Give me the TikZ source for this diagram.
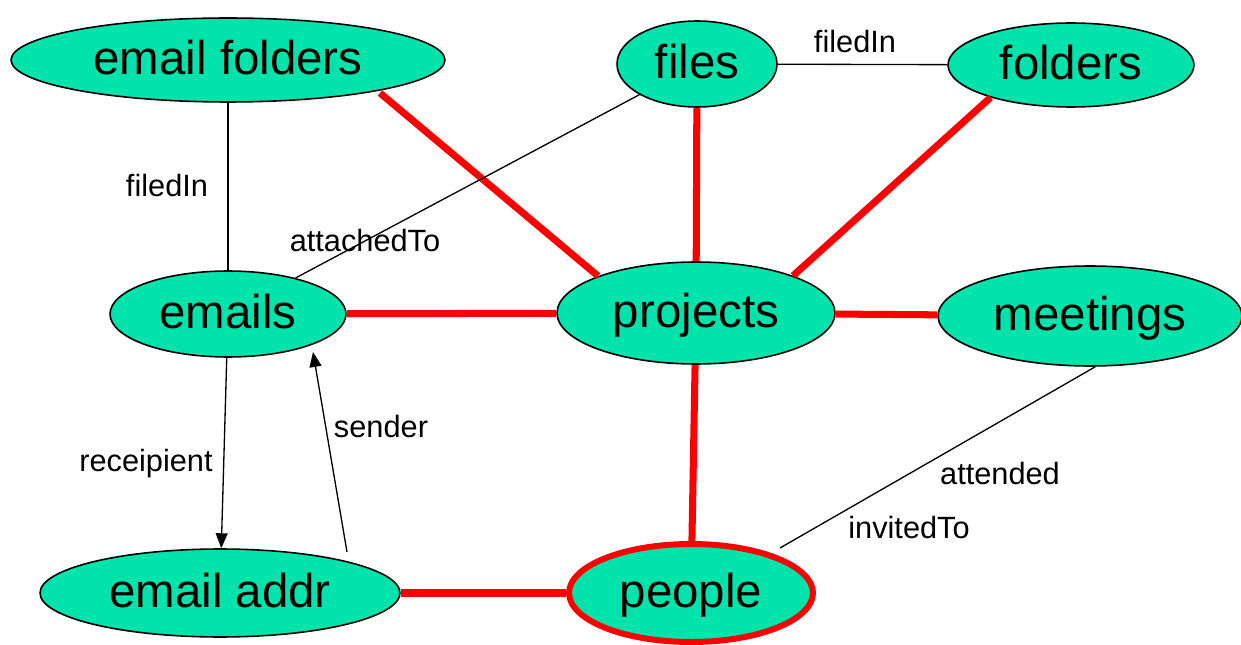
\documentclass[tikz,border=0pt]{standalone}
\usepackage{fontspec}
\setmainfont{Liberation Sans}
\usetikzlibrary{shapes.geometric,arrows.meta}
\definecolor{mint}{HTML}{00E3AA}
\definecolor{hot}{HTML}{FF0000}
\tikzset{
  entity/.style={ellipse, draw=black, line width=0.9pt, fill=mint, inner sep=0pt,
    text height=17pt, text depth=0pt,
    font=\fontsize{27}{30}\selectfont},
  keyentity/.style={entity, draw=hot, line width=3.4pt},
  strong/.style={draw=hot, line width=4pt},
  weak/.style={draw=black, line width=0.75pt},
  pointer/.style={weak, -{Triangle[length=8.5pt,width=6.8pt]}},
  rel/.style={font=\fontsize{17.5}{20}\selectfont, inner sep=0pt}
}
\begin{document}
\begin{tikzpicture}[x=0.02cm, y=-0.02cm]
\useasboundingbox (0,0) rectangle (1241,645);

% entities
\node[entity, minimum width=8.68cm, minimum height=1.68cm] (ef) at (228,60) {email folders};
\node[entity, minimum width=3.2cm,  minimum height=1.72cm] (fi) at (697,64) {files};
\node[entity, minimum width=4.92cm, minimum height=1.68cm] (fo) at (1071,65) {folders};
\node[entity, minimum width=4.72cm, minimum height=1.72cm] (em) at (228,314) {emails};
\node[entity, minimum width=5.56cm, minimum height=2.04cm] (pr) at (696,313) {projects};
\node[entity, minimum width=6.08cm, minimum height=2.0cm]  (me) at (1090,316) {meetings};
\node[entity, minimum width=7.2cm,  minimum height=1.76cm] (ea) at (220,593) {email addr};
\node[keyentity, minimum width=4.88cm, minimum height=1.96cm] (pe) at (691,593) {people};

% links through projects and people
\draw[strong] ([shift={(152,33)}]ef.center) -- ([shift={(-98,-37)}]pr.center);
\draw[strong] (fi) -- (pr);
\draw[strong] (fo.202) -- (pr.21);
\draw[strong] (em) -- (pr);
\draw[strong] (pr) -- (me);
\draw[strong] (pr) -- (pe);
\draw[strong] (ea) -- (pe);

% plain relations
\draw[weak] (ef) -- (em);
\draw[weak] (fi) -- (fo);
\draw[weak] (fi) -- (em);
\draw[weak] (me.-84) -- ([shift={(89,-45)}]pe.center);
\draw[pointer] (em) -- (ea);
\draw[pointer] ([shift={(127,-41)}]ea.center) -- ([shift={(85,38)}]em.center);

% relation labels
\node[rel] (l1) at (167,186) {filedIn};
\node[rel] (l2) at (855,42)  {filedIn};
\node[rel] (l3) at (365,241) {attachedTo};
\node[rel] (l4) at (146,464) {receipient};
\node[rel] (l5) at (381,427) {sender};
\node[rel] (l6) at (1000,474) {attended};
\node[rel] (l7) at (909,528) {invitedTo};
\end{tikzpicture}
\end{document}
